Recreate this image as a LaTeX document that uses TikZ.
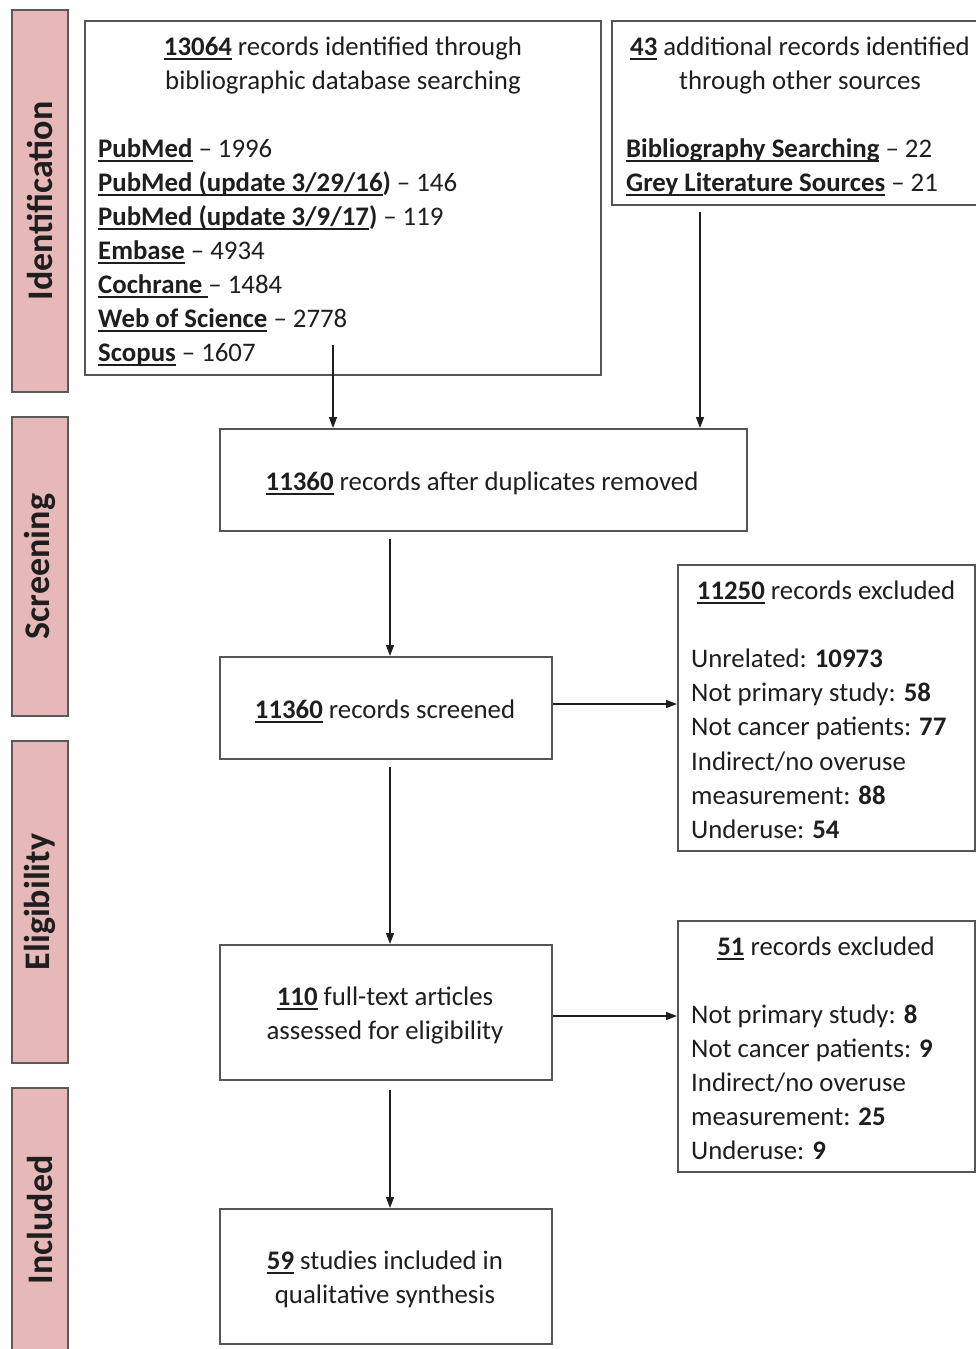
\documentclass[tikz,border=0pt]{standalone}
\usepackage{fontspec}
\setmainfont{Carlito}
\usetikzlibrary{arrows.meta}
\definecolor{ink}{HTML}{1E1E1E}
\definecolor{frame}{HTML}{555555}
\definecolor{barfill}{HTML}{E6B9B8}
\definecolor{barline}{HTML}{5A5A5A}
\newcommand\ul[1]{\setbox0=\hbox{#1}\rlap{\rule[-5pt]{\wd0}{1.8pt}}\box0}
\begin{document}
\begin{tikzpicture}[x=1pt,y=-1pt,
 box/.style={draw=frame, line width=1.5pt, inner sep=0pt, anchor=north west},
 txt/.style={inner sep=0pt, text=ink, font=\fontsize{26.8}{34}\selectfont},
 lft/.style={txt, anchor=base west},
 mid/.style={txt, anchor=base},
 bar/.style={draw=barline, line width=1.5pt, fill=barfill, inner sep=0pt, rotate=90, minimum height=56pt, text=ink, font=\fontsize{36}{40}\selectfont\bfseries},
 arr/.style={draw=ink, line width=1.4pt, -{Triangle[length=11pt,width=8pt]}},
]
\useasboundingbox (0,0) rectangle (976,1349);
% side bars
\node[bar, minimum width=382pt] (s1) at (40,201) {Identification};
\node[bar, minimum width=299pt] (s2) at (40,566.5) {Screening};
\node[bar, minimum width=322pt] (s3) at (40,902) {Eligibility};
\node[bar, minimum width=264pt] (s4) at (40,1220) {Included};
% boxes
\node[box, minimum width=516pt, minimum height=354pt] (b1) at (84,20) {};
\node[box, minimum width=379pt, minimum height=184pt] (b2) at (611,20) {};
\node[box, minimum width=527pt, minimum height=102pt] (b3) at (219,428) {};
\node[box, minimum width=332pt, minimum height=102pt] (b4) at (219,656) {};
\node[box, minimum width=297pt, minimum height=286pt] (b5) at (677,564) {};
\node[box, minimum width=332pt, minimum height=135pt] (b6) at (219,944) {};
\node[box, minimum width=297pt, minimum height=251pt] (b7) at (677,920) {};
\node[box, minimum width=332pt, minimum height=135pt] (b8) at (219,1208) {};
% box 1 text
\node[mid] (t1a) at (343,55) {\textbf{\ul{13064}} records identified through};
\node[mid] (t1b) at (343,89) {bibliographic database searching};
\node[lft] (t1c) at (98,157) {\textbf{\ul{PubMed}} – 1996};
\node[lft] (t1d) at (98,191) {\textbf{\ul{PubMed (update 3/29/16})} – 146};
\node[lft] (t1e) at (98,225) {\textbf{\ul{PubMed (update 3/9/17})} – 119};
\node[lft] (t1f) at (98,259) {\textbf{\ul{Embase}} – 4934};
\node[lft] (t1g) at (98,293) {\textbf{\ul{Cochrane }}– 1484};
\node[lft] (t1h) at (98,327) {\textbf{\ul{Web of Science}} – 2778};
\node[lft] (t1i) at (98,361) {\textbf{\ul{Scopus}} – 1607};
% box 2 text
\node[mid] (t2a) at (800,55) {\textbf{\ul{43}} additional records identified};
\node[mid] (t2b) at (800,89) {through other sources};
\node[lft] (t2c) at (626,157) {\textbf{\ul{Bibliography Searching}} – 22};
\node[lft] (t2d) at (626,191) {\textbf{\ul{Grey Literature Sources}} – 21};
% box 3, 4
\node[mid] (t3) at (482,490) {\textbf{\ul{11360}} records after duplicates removed};
\node[mid] (t4) at (385,718) {\textbf{\ul{11360}} records screened};
% box 5
\node[mid] (t5a) at (826,599) {\textbf{\ul{11250}} records excluded};
\node[lft] (t5b) at (691,667) {Unrelated: \textbf{10973}};
\node[lft] (t5c) at (691,701) {Not primary study: \textbf{58}};
\node[lft] (t5d) at (691,735) {Not cancer patients: \textbf{77}};
\node[lft] (t5e) at (691,770) {Indirect/no overuse};
\node[lft] (t5f) at (691,804) {measurement: \textbf{88}};
\node[lft] (t5g) at (691,838) {Underuse: \textbf{54}};
% box 6
\node[mid] (t6a) at (385,1005) {\textbf{\ul{110}} full-text articles};
\node[mid] (t6b) at (385,1039) {assessed for eligibility};
% box 7
\node[mid] (t7a) at (826,955) {\textbf{\ul{51}} records excluded};
\node[lft] (t7b) at (691,1023) {Not primary study: \textbf{8}};
\node[lft] (t7c) at (691,1057) {Not cancer patients: \textbf{9}};
\node[lft] (t7d) at (691,1091) {Indirect/no overuse};
\node[lft] (t7e) at (691,1125) {measurement: \textbf{25}};
\node[lft] (t7f) at (691,1159) {Underuse: \textbf{9}};
% box 8
\node[mid] (t8a) at (385,1269) {\textbf{\ul{59}} studies included in};
\node[mid] (t8b) at (385,1303) {qualitative synthesis};
% connectors
\coordinate (a1) at (333,345);
\coordinate (a2) at (700,212);
\coordinate (m) at (390,0);
\coordinate (h1) at (0,704);
\coordinate (h2) at (0,1016);
\draw[arr] (a1) -- (a1 |- b3.north);
\draw[arr] (a2) -- (a2 |- b3.north);
\draw[arr, shorten <=7pt] (b3.south -| m) -- (b4.north -| m);
\draw[arr] (b4.east |- h1) -- (b5.west |- h1);
\draw[arr, shorten <=7pt] (b4.south -| m) -- (b6.north -| m);
\draw[arr] (b6.east |- h2) -- (b7.west |- h2);
\draw[arr, shorten <=9pt] (b6.south -| m) -- (b8.north -| m);
\end{tikzpicture}
\end{document}
